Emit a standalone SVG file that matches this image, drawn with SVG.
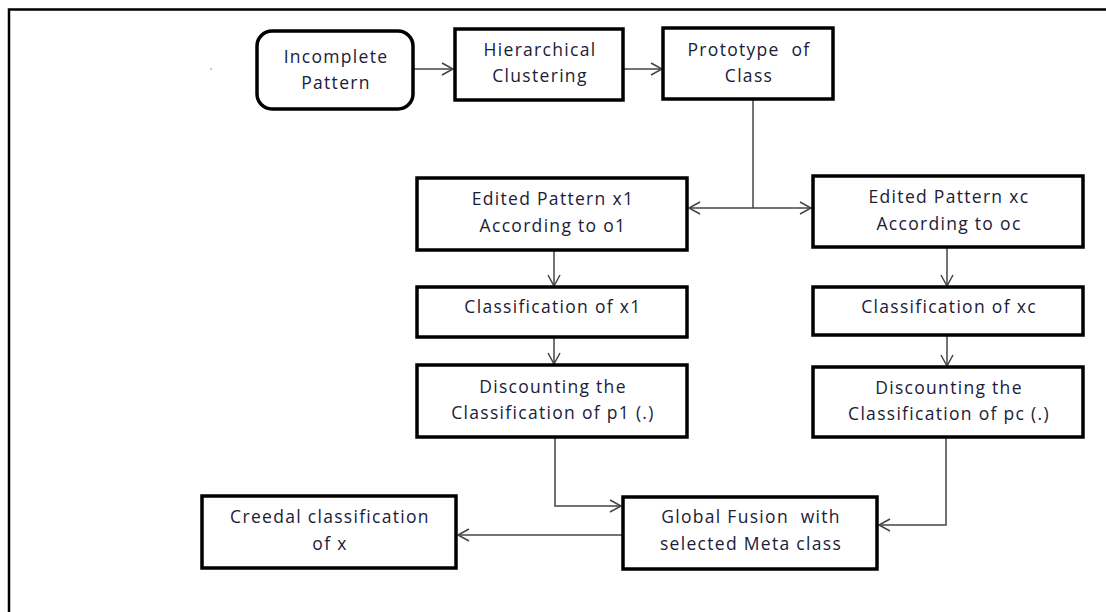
<svg xmlns="http://www.w3.org/2000/svg" width="1106" height="612" viewBox="0 0 1106 612">
<style>
.box{fill:#fff;stroke:#000;stroke-width:3.5}
.t{font-family:"Open Sans","Liberation Sans",sans-serif;font-size:17.5px;letter-spacing:1.3px;fill:#1a2038;text-anchor:middle}
.c{fill:none;stroke:#444;stroke-width:1.5}
</style>
<defs>
<marker id="a" markerWidth="14" markerHeight="14" refX="12" refY="7" orient="auto" markerUnits="userSpaceOnUse">
<path d="M1,1 L12,7 L1,13" fill="none" stroke="#444" stroke-width="1.5"/>
</marker>
</defs>
<rect width="1106" height="612" fill="#fff"/>
<path d="M9,612 V9.5 H1106" fill="none" stroke="#000" stroke-width="2.5"/>
<g id="connectors">
<line class="c" x1="414" y1="69" x2="453" y2="69" marker-end="url(#a)"/>
<line class="c" x1="624" y1="69" x2="662" y2="69" marker-end="url(#a)"/>
<line class="c" x1="753" y1="100" x2="753" y2="208"/>
<line class="c" x1="753" y1="208" x2="689" y2="208" marker-end="url(#a)"/>
<line class="c" x1="753" y1="208" x2="811" y2="208" marker-end="url(#a)"/>
<line class="c" x1="554" y1="251" x2="554" y2="286" marker-end="url(#a)"/>
<line class="c" x1="554" y1="338" x2="554" y2="364" marker-end="url(#a)"/>
<polyline class="c" points="555,438 555,506 621,506" marker-end="url(#a)"/>
<line class="c" x1="947" y1="248" x2="947" y2="286" marker-end="url(#a)"/>
<line class="c" x1="947" y1="336" x2="947" y2="366" marker-end="url(#a)"/>
<polyline class="c" points="946,438 946,525 879,525" marker-end="url(#a)"/>
<line class="c" x1="622" y1="535" x2="458" y2="535" marker-end="url(#a)"/>
</g>
<g id="incomplete">
<rect class="box" x="257" y="31" width="156" height="78" rx="15"/>
<text class="t" x="336" y="63">Incomplete</text>
<text class="t" x="336" y="89">Pattern</text>
</g>
<g id="hierarchical">
<rect class="box" x="455" y="29" width="168" height="71"/>
<text class="t" x="540" y="56">Hierarchical</text>
<text class="t" x="540" y="82">Clustering</text>
</g>
<g id="prototype">
<rect class="box" x="663" y="28" width="170" height="71"/>
<text class="t" x="749" y="56" xml:space="preserve">Prototype  of</text>
<text class="t" x="749" y="82">Class</text>
</g>
<g id="edited1">
<rect class="box" x="417" y="178" width="270" height="72"/>
<text class="t" x="553" y="205">Edited Pattern x1</text>
<text class="t" x="553" y="232">According to o1</text>
</g>
<g id="editedc">
<rect class="box" x="813" y="176" width="270" height="71"/>
<text class="t" x="949" y="203">Edited Pattern xc</text>
<text class="t" x="949" y="230">According to oc</text>
</g>
<g id="class1">
<rect class="box" x="417" y="287" width="270" height="50"/>
<text class="t" x="553" y="313">Classification of x1</text>
</g>
<g id="classc">
<rect class="box" x="813" y="287" width="270" height="48"/>
<text class="t" x="949" y="313">Classification of xc</text>
</g>
<g id="disc1">
<rect class="box" x="417" y="365" width="270" height="72"/>
<text class="t" x="553" y="393">Discounting the</text>
<text class="t" x="553" y="419">Classification of p1 (.)</text>
</g>
<g id="discc">
<rect class="box" x="813" y="367" width="270" height="70"/>
<text class="t" x="949" y="394">Discounting the</text>
<text class="t" x="949" y="420">Classification of pc (.)</text>
</g>
<g id="fusion">
<rect class="box" x="623" y="497" width="254" height="72"/>
<text class="t" x="751" y="523" xml:space="preserve">Global Fusion  with</text>
<text class="t" x="751" y="550">selected Meta class</text>
</g>
<g id="creedal">
<rect class="box" x="202" y="496" width="254" height="72"/>
<text class="t" x="330" y="523">Creedal classification</text>
<text class="t" x="330" y="550">of x</text>
</g>
<circle cx="211" cy="69" r="0.7" fill="#666"/>
</svg>
